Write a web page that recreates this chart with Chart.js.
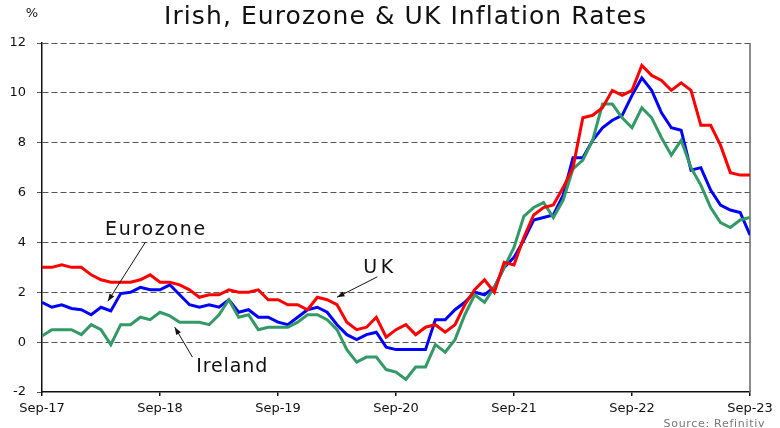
<!DOCTYPE html>
<html>
<head>
<meta charset="utf-8">
<script src="https://cdn.jsdelivr.net/npm/chart.js@4.4.0/dist/chart.umd.min.js"></script>
<style>
  html, body { margin: 0; padding: 0; background: #fff; }
  #wrap { width: 780px; height: 428px; }
</style>
</head>
<body>
<div id="wrap"><canvas id="grafico" width="780" height="428"></canvas></div>
<script>
// Datos mensuales, Sep-17 a Sep-23 (73 meses)
var etiquetasX = ['Sep-17', 'Sep-18', 'Sep-19', 'Sep-20', 'Sep-21', 'Sep-22', 'Sep-23'];
var ticksY = [-2, 0, 2, 4, 6, 8, 10, 12];

var uk = [3.0, 3.0, 3.1, 3.0, 3.0, 2.7, 2.5, 2.4, 2.4, 2.4, 2.5, 2.7,
          2.4, 2.4, 2.3, 2.1, 1.8, 1.9, 1.9, 2.1, 2.0, 2.0, 2.1, 1.7,
          1.7, 1.5, 1.5, 1.3, 1.8, 1.7, 1.5, 0.8, 0.5, 0.6, 1.0, 0.2,
          0.5, 0.7, 0.3, 0.6, 0.7, 0.4, 0.7, 1.5, 2.1, 2.5, 2.0, 3.2,
          3.1, 4.2, 5.1, 5.4, 5.5, 6.2, 7.0, 9.0, 9.1, 9.4, 10.1, 9.9,
          10.1, 11.1, 10.7, 10.5, 10.1, 10.4, 10.1, 8.7, 8.7, 7.9, 6.8, 6.7,
          6.7];

var eurozone = [1.6, 1.4, 1.5, 1.35, 1.3, 1.1, 1.4, 1.25, 1.95, 2.0, 2.2, 2.1,
                2.1, 2.3, 1.9, 1.5, 1.4, 1.5, 1.4, 1.7, 1.2, 1.3, 1.0, 1.0,
                0.8, 0.7, 1.0, 1.3, 1.4, 1.2, 0.7, 0.3, 0.1, 0.3, 0.4, -0.2,
                -0.3, -0.3, -0.3, -0.3, 0.9, 0.9, 1.3, 1.6, 2.0, 1.9, 2.2, 3.0,
                3.4, 4.1, 4.9, 5.0, 5.1, 5.9, 7.4, 7.4, 8.1, 8.6, 8.9, 9.1,
                9.9, 10.6, 10.1, 9.2, 8.6, 8.5, 6.9, 7.0, 6.1, 5.5, 5.3, 5.2,
                4.3];

var ireland = [0.25, 0.5, 0.5, 0.5, 0.3, 0.7, 0.5, -0.1, 0.7, 0.7, 1.0, 0.9,
               1.2, 1.05, 0.8, 0.8, 0.8, 0.7, 1.1, 1.7, 1.0, 1.1, 0.5, 0.6,
               0.6, 0.6, 0.8, 1.1, 1.1, 0.9, 0.5, -0.3, -0.8, -0.6, -0.6, -1.1,
               -1.2, -1.5, -1.0, -1.0, -0.1, -0.4, 0.1, 1.1, 1.9, 1.6, 2.2, 3.0,
               3.8, 5.05, 5.4, 5.6, 5.0, 5.7, 6.95, 7.3, 8.1, 9.55, 9.55, 9.0,
               8.6, 9.4, 9.0, 8.2, 7.5, 8.1, 7.0, 6.3, 5.4, 4.8, 4.6, 4.9,
               5.0];

var fuente = '"DejaVu Sans", "Noto Sans", sans-serif';

// pasar a puntos {x, y}
function puntos(serie) {
    return serie.map(function(v, i) { return {x: i, y: v}; });
}

// Notas con flecha (en coordenadas de datos)
var notas = [
    {texto: 'Eurozone', ancho: 100, x: 11.5, y: 4.5, desde: [10.5, 4.0], hasta: [6.7, 1.64]},
    {texto: 'UK', ancho: 30, x: 34.2, y: 2.97, desde: [34.1, 2.62], hasta: [30.0, 1.8]},
    {texto: 'Ireland', ancho: 71, x: 19.3, y: -1.0, desde: [15.3, -0.6], hasta: [13.5, 0.6]}
];

function flecha(ctx, x1, y1, x2, y2) {
    var ang = Math.atan2(y2 - y1, x2 - x1);
    ctx.beginPath();
    ctx.moveTo(x1, y1);
    ctx.lineTo(x2, y2);
    ctx.stroke();
    ctx.beginPath();
    ctx.moveTo(x2, y2);
    ctx.lineTo(x2 - 8 * Math.cos(ang - 0.35), y2 - 8 * Math.sin(ang - 0.35));
    ctx.lineTo(x2 - 8 * Math.cos(ang + 0.35), y2 - 8 * Math.sin(ang + 0.35));
    ctx.closePath();
    ctx.fill();
}

// texto centrado con espaciado para ocupar un ancho dado
function textoAncho(ctx, txt, x, y, ancho) {
    ctx.letterSpacing = '0px';
    var w = ctx.measureText(txt).width;
    var extra = (ancho - w) / (txt.length - 1);
    ctx.letterSpacing = extra.toFixed(2) + 'px';
    ctx.fillText(txt, x + extra / 2, y);
    ctx.letterSpacing = '0px';
}

var extras = {
    id: 'extras',
    beforeDatasetsDraw: function(chart) {
        var ctx = chart.ctx, area = chart.chartArea;
        ctx.save();
        ctx.strokeStyle = '#666';
        ctx.lineWidth = 1.5;
        ctx.beginPath();
        ctx.moveTo(area.right, area.top);
        ctx.lineTo(area.right, area.bottom);
        ctx.stroke();
        ctx.restore();
    },
    afterDraw: function(chart) {
        var ctx = chart.ctx, xs = chart.scales.x, ys = chart.scales.y;
        ctx.save();
        // titulo
        ctx.fillStyle = '#111';
        ctx.textAlign = 'center';
        ctx.textBaseline = 'middle';
        ctx.font = '25px ' + fuente;
        textoAncho(ctx, 'Irish, Eurozone & UK Inflation Rates', 405, 17, 482);
        // unidad
        ctx.font = '13px ' + fuente;
        ctx.fillText('%', 32, 14);
        // fuente de datos
        ctx.fillStyle = '#777';
        ctx.font = '11px ' + fuente;
        textoAncho(ctx, 'Source: Refinitiv', 714, 424, 101);
        // notas
        ctx.fillStyle = '#111';
        ctx.strokeStyle = '#111';
        ctx.lineWidth = 1;
        ctx.font = '19px ' + fuente;
        notas.forEach(function(n) {
            var px = xs.getPixelForValue(n.x), py = ys.getPixelForValue(n.y);
            textoAncho(ctx, n.texto, px, py, n.ancho);
            flecha(ctx,
                xs.getPixelForValue(n.desde[0]), ys.getPixelForValue(n.desde[1]),
                xs.getPixelForValue(n.hasta[0]), ys.getPixelForValue(n.hasta[1]));
        });
        ctx.restore();
    }
};

function serie(nombre, datos, color) {
    return {
        label: nombre,
        data: puntos(datos),
        borderColor: color,
        backgroundColor: color,
        borderWidth: 3,
        pointRadius: 0,
        tension: 0,
        fill: false
    };
}

new Chart(document.getElementById('grafico'), {
    type: 'line',
    data: {
        datasets: [
            serie('UK', uk, '#ff0000'),
            serie('Ireland', ireland, '#339966'),
            serie('Eurozone', eurozone, '#0000ff')
        ]
    },
    options: {
        responsive: false,
        devicePixelRatio: 1,
        animation: false,
        layout: { padding: { top: 43, right: 30, left: 0, bottom: 0 } },
        plugins: {
            legend: { display: false },
            title: { display: false },
            tooltip: { enabled: false }
        },
        scales: {
            x: {
                type: 'linear',
                min: 0,
                max: (etiquetasX.length - 1) * 12,
                afterFit: function(s) { s.height = 36; },
                afterBuildTicks: function(s) {
                    s.ticks = etiquetasX.map(function(t, i) { return {value: i * 12}; });
                },
                ticks: {
                    autoSkip: false,
                    maxRotation: 0,
                    padding: 5,
                    color: '#111',
                    font: { family: fuente, size: 13 },
                    callback: function(v) { return etiquetasX[v / 12]; }
                },
                grid: { drawOnChartArea: false, tickLength: 4, color: '#111', lineWidth: 1.5 },
                border: { color: '#111', width: 1.5 }
            },
            y: {
                min: ticksY[0],
                max: ticksY[ticksY.length - 1],
                afterFit: function(s) { s.width = 42; },
                ticks: {
                    stepSize: 2,
                    padding: 11,
                    color: '#111',
                    font: { family: fuente, size: 13 }
                },
                grid: {
                    tickLength: 5,
                    lineWidth: 1,
                    color: function(c) { return c.tick && c.tick.value === ticksY[0] ? 'rgba(0,0,0,0)' : '#555'; },
                    tickColor: '#555'
                },
                border: { color: '#111', width: 1.5, dash: [6, 3] }
            }
        }
    },
    plugins: [extras]
});
</script>
</body>
</html>
